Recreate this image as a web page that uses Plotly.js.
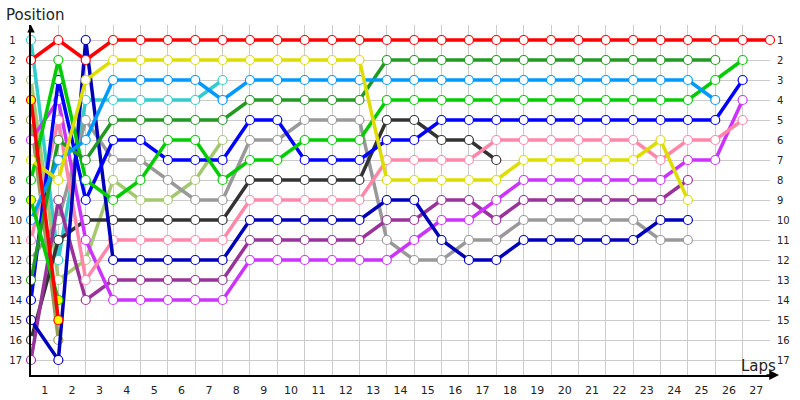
<!DOCTYPE html>
<html>
<head>
<meta charset="utf-8">
<script src="https://cdn.plot.ly/plotly-3.0.1.min.js"></script>
<style>html,body{margin:0;padding:0;background:#fff;}#chart{width:800px;height:400px;}</style>
</head>
<body>
<div id="chart"></div>
<script>
// lap index 0..27 (0 = start grid)
const laps = [0,1,2,3,4,5,6,7,8,9,10,11,12,13,14,15,16,17,18,19,20,21,22,23,24,25,26,27];
const lapLabels = ["1","2","3","4","5","6","7","8","9","10","11","12","13","14","15","16","17","18","19","20","21","22","23","24","25","26","27"];
const lapLabelPos = [0.5,1.5,2.5,3.5,4.5,5.5,6.5,7.5,8.5,9.5,10.5,11.5,12.5,13.5,14.5,15.5,16.5,17.5,18.5,19.5,20.5,21.5,22.5,23.5,24.5,25.5,26.5];
const positions = [1,2,3,4,5,6,7,8,9,10,11,12,13,14,15,16,17];
const N = null;

const red       = [2,1,2,1,1,1,1,1,1,1,1,1,1,1,1,1,1,1,1,1,1,1,1,1,1,1,1,1];
const yellow    = [7,8,3,2,2,2,2,2,2,2,2,2,2,8,8,8,8,8,7,7,7,7,7,6,9,N,N,N];
const lightBlue = [10,7,6,3,3,3,3,4,3,3,3,3,3,3,3,3,3,3,3,3,3,3,3,3,3,4,N,N];
const cyan      = [1,12,4,4,4,4,4,3,N,N,N,N,N,N,N,N,N,N,N,N,N,N,N,N,N,N,N,N];
const darkGreen = [13,6,7,5,5,5,5,5,4,4,4,4,4,2,2,2,2,2,2,2,2,2,2,2,2,2,N,N];
const blue      = [14,3,9,6,6,7,7,7,5,5,7,7,7,6,6,5,5,5,5,5,5,5,5,5,5,5,3,N];
const gray      = [12,10,5,7,7,8,9,9,6,6,5,5,5,11,12,12,11,11,10,10,10,10,10,11,11,N,N,N];
const lightGreen= [3,13,12,8,9,9,8,6,N,N,N,N,N,N,N,N,N,N,N,N,N,N,N,N,N,N,N,N];
const green     = [8,2,8,9,8,6,6,8,7,7,6,6,6,4,4,4,4,4,4,4,4,4,4,4,4,3,2,N];
const black     = [16,11,10,10,10,10,10,10,8,8,8,8,8,5,5,6,6,7,N,N,N,N,N,N,N,N,N,N];
const pink      = [11,5,13,11,11,11,11,11,9,9,9,9,9,7,7,7,7,6,6,6,6,6,6,7,6,6,5,N];
const navy      = [15,17,1,12,12,12,12,12,10,10,10,10,10,9,9,11,12,12,11,11,11,11,11,10,10,N,N,N];
const purple    = [17,9,14,13,13,13,13,13,11,11,11,11,11,10,10,9,9,10,9,9,9,9,9,9,8,N,N,N];
const violet    = [6,4,11,14,14,14,14,14,12,12,12,12,12,12,11,10,10,9,8,8,8,8,8,8,7,7,4,N];
const greenOut  = [9,14,N,N,N,N,N,N,N,N,N,N,N,N,N,N,N,N,N,N,N,N,N,N,N,N,N,N];
const redOut    = [4,15,N,N,N,N,N,N,N,N,N,N,N,N,N,N,N,N,N,N,N,N,N,N,N,N,N,N];
const olive     = [5,16,N,N,N,N,N,N,N,N,N,N,N,N,N,N,N,N,N,N,N,N,N,N,N,N,N,N];

const series = [
  {name:"olive", y:olive, c:"#9a9a58", fill:"#ffffff"},
  {name:"lightGreen", y:lightGreen, c:"#a4c870", fill:"#ffffff"},
  {name:"cyan", y:cyan, c:"#33cccc", fill:"#ffffff"},
  {name:"gray", y:gray, c:"#999999", fill:"#ffffff"},
  {name:"black", y:black, c:"#333333", fill:"#ffffff"},
  {name:"purple", y:purple, c:"#993399", fill:"#ffffff"},
  {name:"violet", y:violet, c:"#cc33ff", fill:"#ffffff"},
  {name:"pink", y:pink, c:"#ff88aa", fill:"#ffffff"},
  {name:"navy", y:navy, c:"#0000bb", fill:"#ffffff"},
  {name:"blue", y:blue, c:"#0000ff", fill:"#ffffff"},
  {name:"green", y:green, c:"#00cc00", fill:"#ffffff"},
  {name:"darkGreen", y:darkGreen, c:"#229922", fill:"#ffffff"},
  {name:"lightBlue", y:lightBlue, c:"#0099ff", fill:"#ffffff"},
  {name:"yellow", y:yellow, c:"#dddd00", fill:"#ffffff"},
  {name:"greenOut", y:greenOut, c:"#00cc00", fill:"#ffff00"},
  {name:"redOut", y:redOut, c:"#ff0000", fill:"#ffff00"},
  {name:"red", y:red, c:"#ff0000", fill:"#ffffff"}
];

const traces = series.map(s => ({
  type:"scatter", mode:"lines+markers", name:s.name,
  x:laps, y:s.y, connectgaps:false, cliponaxis:false,
  line:{color:s.c, width:3.5},
  marker:{size:9, color:s.fill, line:{color:s.c, width:1.2}},
  hoverinfo:"skip"
}));
traces.push({type:"scatter", mode:"markers", x:[0], y:[1], xaxis:"x2", yaxis:"y2",
  marker:{opacity:0}, hoverinfo:"skip", showlegend:false});

const fs = "\u2007";
const leftText = positions.map(p => p < 10 ? String(p) + fs : String(p));

const layout = {
  width:800, height:400,
  margin:{l:31, r:30, t:25, b:25, pad:0},
  paper_bgcolor:"#ffffff", plot_bgcolor:"#ffffff",
  showlegend:false,
  font:{family:"DejaVu Sans", size:10, color:"#222222"},
  xaxis:{range:[0,27], tickvals:laps, showticklabels:false, showgrid:true,
    gridcolor:"#cccccc", gridwidth:1, zeroline:false, showline:false, fixedrange:true},
  xaxis2:{overlaying:"x", side:"bottom", anchor:"y2", range:[0,27], tickvals:lapLabelPos,
    ticktext:lapLabels, showgrid:false, zeroline:false, showline:true, linecolor:"#000000",
    linewidth:2, ticks:"", ticklabelstandoff:4, tickfont:{size:11}},
  yaxis:{range:[17.75,0.25], tickvals:positions, ticktext:leftText, showgrid:true,
    gridcolor:"#cccccc", gridwidth:1, zeroline:false, showline:true, linecolor:"#000000",
    linewidth:2, ticks:"", ticklabelstandoff:5},
  yaxis2:{overlaying:"y", side:"right", anchor:"x2", range:[17.75,0.25], tickvals:positions,
    ticktext:positions.map(String), showgrid:false, zeroline:false, showline:false, ticks:"",
    ticklabelstandoff:6},
  annotations:[
    {xref:"paper", yref:"paper", x:-0.0365, y:1.0286, xanchor:"left", yanchor:"middle",
     text:"Position", showarrow:false, font:{size:15, color:"#222222"}},
    {xref:"paper", yref:"paper", x:0.984, y:0.026, xanchor:"center", yanchor:"middle",
     text:"Laps", showarrow:false, font:{size:15, color:"#222222"}},
    {xref:"paper", yref:"paper", x:1.0122, y:0, ax:-14, ay:0, text:"", showarrow:true,
     arrowhead:2, arrowsize:1.3, arrowwidth:1.5, arrowcolor:"#000000"},
    {xref:"paper", yref:"paper", x:0, y:1, ax:0, ay:6, text:"", showarrow:true,
     arrowhead:2, arrowsize:1, arrowwidth:1.5, arrowcolor:"#000000"}
  ]
};

Plotly.newPlot("chart", traces, layout, {displayModeBar:false, staticPlot:true});
</script>
</body>
</html>
